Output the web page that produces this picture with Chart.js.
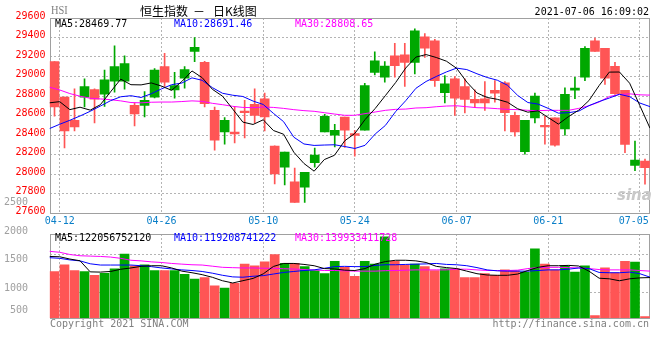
<!DOCTYPE html>
<html>
<head>
<meta charset="utf-8">
<title>恒生指数 - 日K线图</title>
<script src="https://cdn.jsdelivr.net/npm/chart.js@4.4.1/dist/chart.umd.min.js"></script>
<style>
  html, body { margin: 0; padding: 0; background: #fff; }
  #wrap { position: relative; width: 660px; height: 360px; overflow: hidden;
          font-family: "DejaVu Sans Mono", monospace; font-size: 10px; }
  .box { position: absolute; left: 0; width: 660px; }
  #kBox { top: 0; height: 230px; }
  #vBox { top: 190px; height: 140px; }
  .t { position: absolute; white-space: pre; line-height: 12px; }
</style>
</head>
<body>
<div id="wrap">
  <div class="box" id="kBox"><canvas id="kChart"></canvas></div>
  <div class="box" id="vBox"><canvas id="vChart"></canvas></div>

  <div class="t" style="left:51px;top:4px;font-family:'Liberation Serif',serif;font-size:13px;color:#808080;transform:scaleX(.8);transform-origin:left">HSI</div>
  <div class="t" style="left:140px;top:4px;line-height:14px;font-family:'Noto Sans CJK SC';font-size:12px;color:#000">恒生指数</div>
  <div class="t" style="left:193px;top:4px;line-height:14px;font-family:'Noto Sans CJK SC';font-size:12px;color:#000">－</div>
  <div class="t" style="left:213px;top:4px;line-height:14px;font-family:'Noto Sans CJK SC';font-size:12px;color:#000">日K线图</div>
  <div class="t" style="right:11px;top:6px;color:#000">2021-07-06 16:09:02</div>

  <div class="t" style="left:55px;top:18px;color:#000">MA5:28469.77</div>
  <div class="t" style="left:174px;top:18px;color:#0000ff">MA10:28691.46</div>
  <div class="t" style="left:295px;top:18px;color:#ff00ff">MA30:28808.65</div>

  <div class="t" style="left:617px;top:187px;font-family:'DejaVu Sans';font-size:15px;font-weight:bold;font-style:italic;color:#c8c8c8;line-height:16px">sina</div>

  <div class="t" style="left:55px;top:232px;color:#000">MA5:122056752120</div>
  <div class="t" style="left:174px;top:232px;color:#0000ff">MA10:119208741222</div>
  <div class="t" style="left:295px;top:232px;color:#ff00ff">MA30:139933411728</div>

  <div class="t" style="left:50px;top:318px;color:#808080">Copyright 2021 SINA.COM</div>
  <div class="t" style="right:11px;top:318px;color:#808080">http://finance.sina.com.cn</div>
</div>

<script>
// HSI daily, 2021-04-09 .. 2021-07-06
const dates = ['04-09','04-12','04-13','04-14','04-15','04-16','04-19','04-20','04-21','04-22',
  '04-23','04-26','04-27','04-28','04-29','04-30','05-03','05-04','05-05','05-06',
  '05-07','05-10','05-11','05-12','05-13','05-14','05-17','05-18','05-20','05-21',
  '05-24','05-25','05-26','05-27','05-28','05-31','06-01','06-02','06-03','06-04',
  '06-07','06-08','06-09','06-10','06-11','06-15','06-16','06-17','06-18','06-21',
  '06-22','06-23','06-24','06-25','06-28','06-29','06-30','07-02','07-05','07-06'];
const tickDates = ['04-12','04-26','05-10','05-24','06-07','06-21','07-05'];

const opens = [29152,28789,28551,28789,28867,28819,28952,28952,28704,28704,
  28789,29101,28863,28982,29257,29145,28653,28432,28429,28646,
  28714,28772,28286,28069,27919,27865,28116,28432,28398,28585,
  28415,28449,29043,28992,29213,29223,29145,29407,29366,28833,
  28975,28897,28765,28772,28857,28935,28602,28228,28575,28500,
  28575,28463,28860,28992,29366,29288,29105,28857,28089,28133];
const highs = [29152,28789,28874,28976,28874,29067,29315,29213,28728,28846,
  29080,29237,29043,29101,29400,29155,28687,28578,28687,28755,
  28874,28829,28290,28225,28062,28018,28265,28612,28510,28585,
  28449,28931,29254,29152,29339,29339,29490,29440,29380,29009,
  28999,28976,28863,28948,28958,28948,28636,28551,28830,28592,
  28575,28884,28992,29308,29393,29288,29145,28857,28337,28153];
const lows = [28592,28267,28442,28687,28524,28694,28840,28870,28493,28585,
  28780,28898,28779,28880,29152,28687,28245,28306,28320,28371,
  28524,28442,27899,27889,27709,27709,28069,28432,28279,28272,
  28184,28449,29016,28942,28992,28897,29026,29196,28897,28728,
  28602,28626,28680,28653,28738,28442,28388,28204,28524,28307,
  28286,28398,28772,28958,29257,28918,28816,28218,28035,27896];
const closes = [28687,28442,28483,28897,28768,28965,29101,29132,28616,28755,
  29067,28942,28908,29071,29298,28721,28347,28551,28412,28629,
  28602,28585,28001,28225,27709,28018,28194,28592,28449,28449,
  28395,28907,29162,29108,29111,29145,29468,29291,28958,28925,
  28778,28765,28728,28728,28830,28629,28432,28551,28799,28483,
  28296,28816,28880,29288,29257,28982,28823,28303,28143,28065];

const ma5 = [28730,28742,28660,28685,28655,28711,28843,28973,28916,28914,
  28934,28902,28858,28949,29057,28988,28869,28798,28666,28532,
  28508,28556,28446,28408,28224,28108,28029,28148,28192,28340,
  28416,28558,28672,28804,28937,29087,29199,29225,29195,29157,
  29084,28943,28831,28785,28766,28736,28669,28634,28648,28579,
  28512,28589,28655,28753,28907,29045,29046,28931,28702,28470];
const ma10 = [28466,28510,28551,28595,28643,28697,28752,28792,28803,28785,
  28823,28873,28916,28933,28986,28961,28886,28828,28808,28795,
  28748,28713,28622,28537,28378,28308,28293,28297,28300,28282,
  28262,28294,28410,28498,28639,28752,28879,28949,29000,29047,
  29086,29071,29028,28990,28962,28910,28806,28733,28717,28673,
  28624,28629,28645,28701,28743,28779,28818,28793,28728,28691];
const ma30 = [28890,28862,28825,28798,28777,28770,28762,28750,28733,28730,
  28736,28738,28738,28743,28750,28745,28725,28711,28694,28683,
  28680,28687,28683,28673,28660,28650,28643,28629,28615,28602,
  28602,28619,28636,28653,28663,28666,28677,28680,28690,28697,
  28700,28690,28680,28677,28670,28663,28660,28653,28650,28653,
  28653,28653,28673,28700,28738,28795,28815,28822,28812,28809];

// turnover, 1e8 units
const volumes = [1292,1410,1309,1292,1225,1259,1337,1596,1393,1410,
  1309,1309,1309,1242,1157,1185,1039,1000,1084,1421,
  1393,1461,1590,1433,1433,1377,1309,1253,1472,1365,
  1208,1472,1421,1899,1472,1405,1421,1377,1309,1337,
  1337,1185,1185,1253,1225,1320,1303,1281,1691,1421,
  1320,1393,1281,1393,517,1354,1270,1472,1455,500];
const vma5 = [1556,1550,1510,1480,1285,1281,1292,1331,1354,1382,
  1393,1393,1354,1298,1270,1236,1190,1129,1090,1130,
  1170,1250,1380,1433,1433,1416,1393,1343,1337,1315,
  1309,1343,1421,1466,1489,1489,1478,1450,1382,1360,
  1343,1298,1253,1230,1225,1225,1247,1309,1365,1393,
  1393,1399,1388,1298,1174,1163,1129,1163,1180,1185];
const vma10 = [1534,1523,1495,1478,1427,1405,1405,1405,1405,1393,
  1377,1354,1337,1320,1309,1292,1262,1225,1197,1191,
  1208,1219,1247,1275,1292,1309,1320,1348,1377,1382,
  1377,1377,1399,1410,1410,1416,1421,1425,1433,1416,
  1410,1393,1360,1320,1303,1298,1298,1298,1309,1320,
  1320,1332,1354,1343,1275,1270,1270,1281,1253,1192];
const vma30 = [1646,1629,1590,1568,1562,1556,1545,1523,1489,1478,
  1461,1450,1433,1421,1410,1405,1385,1365,1359,1354,
  1354,1349,1348,1340,1335,1326,1318,1309,1309,1303,
  1298,1298,1298,1306,1309,1315,1320,1320,1320,1320,
  1332,1332,1320,1309,1309,1309,1315,1343,1360,1365,
  1365,1360,1354,1343,1326,1320,1320,1320,1309,1298];

const volTicks = [500, 1000, 1500, 2000, 2500];
const volGrid = [916, 1590];

const UP = '#00a800', DOWN = '#ff5555';
const GRID = '#b4b4b4', FRAME = '#a0a0a0';
const MONO = 'DejaVu Sans Mono';

const candleColors = closes.map((c, i) => c >= opens[i] ? UP : DOWN);
const tickIdx = tickDates.map(d => dates.indexOf(d));

// plot frame (top/right/left/bottom border)
const framePlugin = {
  id: 'frame',
  beforeDatasetsDraw(chart) {
    const { ctx, chartArea: a } = chart;
    const x0 = Math.round(a.left) + 0.5, x1 = Math.round(a.right) - 0.5;
    const y0 = Math.round(a.top) + 0.5, y1 = Math.round(a.bottom) + 0.5;
    ctx.save();
    ctx.strokeStyle = FRAME;
    ctx.lineWidth = 1;
    ctx.strokeRect(x0, y0, x1 - x0, y1 - y0);
    ctx.restore();
  }
};

function maLine(values, color) {
  return {
    type: 'line',
    data: values.map((v, i) => ({ x: i, y: v })),
    xAxisID: 'xl',
    borderColor: color,
    borderWidth: 1,
    pointRadius: 0,
    tension: 0,
    fill: false
  };
}

function dateAxis(showLabels, height) {
  return {
    type: 'linear',
    offset: false,
    min: 0,
    max: dates.length - 1,
    afterBuildTicks: (axis) => { axis.ticks = tickIdx.map(v => ({ value: v })); },
    afterFit: (axis) => {
      axis.height = height;
      axis.paddingLeft = 0;
      axis.paddingRight = 0;
    },
    grid: { color: GRID, lineWidth: 1, drawTicks: false, offset: false },
    border: { display: false, dash: [2, 2] },
    ticks: {
      display: showLabels,
      autoSkip: false,
      maxRotation: 0,
      padding: 2,
      color: '#0a7fc8',
      font: { family: MONO, size: 10 },
      // trailing blanks keep the last date inside the plot, as in the original
      callback: (v, i) => (i === tickIdx.length - 1 ? dates[v] + '  ' : dates[v])
    }
  };
}

// --- K-line chart ---
new Chart(document.getElementById('kChart'), {
  type: 'bar',
  data: {
    labels: dates,
    datasets: [
      maLine(ma5, '#000000'),
      maLine(ma10, '#0000ff'),
      maLine(ma30, '#ff00ff'),
      {
        data: opens.map((o, i) => [o, closes[i]]),
        backgroundColor: candleColors,
        barThickness: 9,
        minBarLength: 1,
        grouped: false,
        xAxisID: 'x'
      },
      {
        data: lows.map((l, i) => [l, highs[i]]),
        backgroundColor: candleColors,
        barThickness: 1,
        grouped: false,
        xAxisID: 'x'
      }
    ]
  },
  options: {
    responsive: true,
    maintainAspectRatio: false,
    animation: false,
    events: [],
    layout: { padding: { top: 18, right: 10, left: 0, bottom: 0 } },
    plugins: { legend: { display: false }, tooltip: { enabled: false } },
    scales: {
      x: { type: 'category', display: false, offset: true },
      xl: dateAxis(true, 17),
      y: {
        min: 27600,
        max: 29600,
        afterFit: (axis) => { axis.width = 49.5; },
        grid: { color: GRID, lineWidth: 1, drawTicks: false },
        border: { display: false, dash: [2, 2] },
        ticks: {
          stepSize: 200,
          autoSkip: false,
          padding: 4,
          labelOffset: -2,
          color: '#ff0000',
          font: { family: MONO, size: 10 },
          callback: (v) => String(v)
        }
      }
    }
  },
  plugins: [framePlugin]
});

// --- volume chart ---
new Chart(document.getElementById('vChart'), {
  type: 'bar',
  data: {
    labels: dates,
    datasets: [
      maLine(vma5, '#000000'),
      maLine(vma10, '#0000ff'),
      maLine(vma30, '#ff00ff'),
      {
        data: volumes,
        backgroundColor: candleColors,
        barThickness: 9,
        grouped: false,
        xAxisID: 'x'
      }
    ]
  },
  options: {
    responsive: true,
    maintainAspectRatio: false,
    animation: false,
    events: [],
    layout: { padding: { top: 44, right: 10, left: 0, bottom: 9 } },
    plugins: { legend: { display: false }, tooltip: { enabled: false } },
    scales: {
      x: { type: 'category', display: false, offset: true },
      xl: dateAxis(false, 0),
      y: {
        min: 475,
        max: 1950,
        afterBuildTicks: (axis) => { axis.ticks = volTicks.map(v => ({ value: v })); },
        afterFit: (axis) => { axis.width = 49.5; },
        grid: { display: false, drawTicks: true, tickLength: 21.5 },
        border: { display: false },
        ticks: {
          autoSkip: false,
          padding: 0,
          color: '#a0a0a0',
          font: { family: MONO, size: 10 },
          // bottom label lifted clear of the footer, as in the original
          callback: (v) => (v === 500 ? ['500', ''] : String(v))
        }
      },
      yg: {
        position: 'left',
        min: 475,
        max: 1950,
        afterBuildTicks: (axis) => { axis.ticks = volGrid.map(v => ({ value: v })); },
        afterFit: (axis) => { axis.width = 0; },
        grid: { color: GRID, lineWidth: 1, drawTicks: false },
        border: { display: false, dash: [2, 2] },
        ticks: { display: false }
      }
    }
  },
  plugins: [framePlugin]
});
</script>
</body>
</html>
